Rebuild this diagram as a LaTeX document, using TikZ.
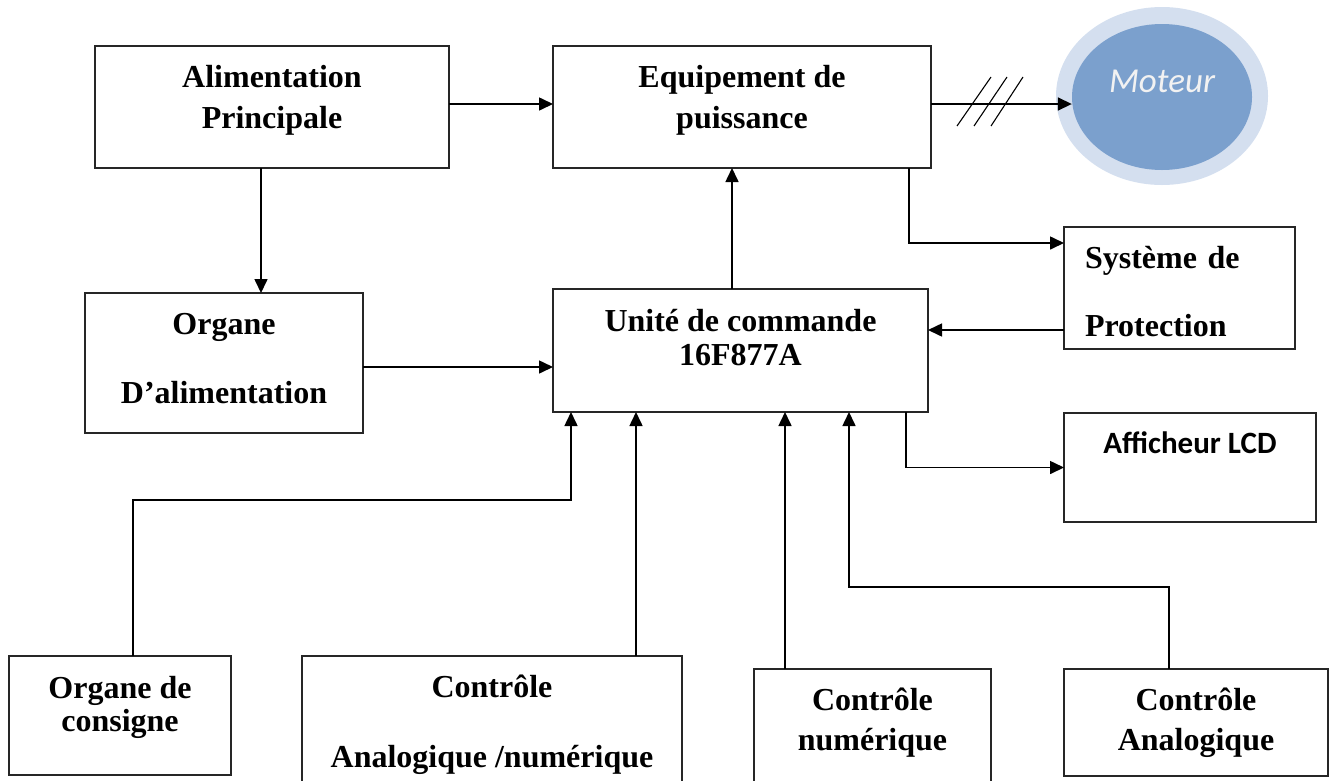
\documentclass[tikz,border=0pt]{standalone}
\usepackage{fontspec}
\setmainfont{Liberation Serif}
\newfontfamily\calibri{Carlito}
\usetikzlibrary{arrows.meta,shapes.geometric}
\definecolor{motorblue}{HTML}{7BA0CD}
\definecolor{halo}{HTML}{D4DFEF}
\tikzset{
	box/.style={draw=black!85,line width=1.6pt,rectangle,inner sep=0,outer sep=0,align=center,font=\bfseries\fontsize{32}{#1}\selectfont},
	box/.default=41,
	link/.style={line width=1.6pt,-{Triangle[length=14pt,width=13pt]}},
}

\begin{document}
\begin{tikzpicture}[x=1pt,y=-1pt]
	\useasboundingbox (0,0) rectangle (1332,780);
	\node[box,minimum width=354pt,minimum height=122pt,text height=62pt,text depth=20pt] (alim) at (272,107) {Alimentation\\Principale};
	\node[box,minimum width=378pt,minimum height=122pt,text height=62pt,text depth=20pt] (equip) at (742,107) {Equipement de\\puissance};
	\node[box=69,minimum width=278pt,minimum height=140pt,text height=90pt,text depth=10pt] (organe) at (224,363) {Organe\\D'alimentation};
	\node[box=34,minimum width=375pt,minimum height=123pt,text height=55pt,text depth=26pt] (unite) at (740.5,350.5) {Unité de commande\\16F877A};
	\node[box=68,minimum width=231pt,minimum height=122pt,text width=189pt,align=left,text height=30pt,text depth=70pt] (prot) at (1179.5,288) {Système de\\Protection};
	\node[box,font=\calibri\bfseries\fontsize{31}{36}\selectfont,minimum width=252pt,minimum height=109pt,text height=20pt,text depth=49pt] (lcd) at (1190,467.5) {Afficheur LCD};
	\node[ellipse,fill=halo,minimum width=212pt,minimum height=178pt,inner sep=0] (halo) at (1162,96) {};
	\node[ellipse,fill=motorblue,minimum width=180pt,minimum height=146pt,inner sep=0,text=white!95!black,font=\calibri\itshape\fontsize{35}{42}\selectfont,text height=22pt,text depth=32pt] (motor) at (1162,97) {Moteur};
	\node[box=33,minimum width=222pt,minimum height=119pt,text height=54pt,text depth=23pt] (consigne) at (120,715.5) {Organe de\\consigne};
	\node[box=70,minimum width=380pt,minimum height=144pt,text height=91pt,text depth=13pt] (an) at (492,728) {Contrôle\\Analogique /numérique};
	\node[box=40,minimum width=237pt,minimum height=131pt,text height=61pt,text depth=30pt] (num) at (872.5,734.5) {Contrôle\\numérique};
	\node[box=40,minimum width=264pt,minimum height=107pt,text height=61pt,text depth=6pt] (ana) at (1196,722.5) {Contrôle\\Analogique};
	\coordinate (c1) at (571,500);
	\coordinate (c2) at (849,587);
	\draw[link] ([yshift=3pt]alim.east) -- ([yshift=3pt]equip.west);
	\draw[link] ([yshift=3pt]equip.east) -- ([yshift=3pt]equip.east -| motor.west);
	\foreach \i in {0,1,2}
		\draw[line width=1.1pt] (957+17*\i,126) -- (991+16*\i,77);
	\draw[link] ([xshift=-11pt]alim.south) -- ([xshift=-11pt]alim.south |- organe.north);
	\draw[link] ([yshift=-4pt]organe.east) -- ([yshift=-4pt]organe.east -| unite.west);
	\draw[link] ([xshift=-8.5pt]unite.north) -- ([xshift=-8.5pt]unite.north |- equip.south);
	\draw[link] ([xshift=-22pt]equip.south east) |- ([yshift=-16pt]prot.north west);
	\draw[link] ([yshift=-42pt]prot.west) -- ([yshift=-42pt]prot.west -| unite.east);
	\draw[link] ([xshift=-22pt]unite.south east) |- (lcd.west);
	\draw[link] ([xshift=13pt]consigne.north) |- (c1) -- (c1 |- unite.south);
	\draw[link] ([xshift=144pt]an.north) -- ([xshift=144pt]an.north |- unite.south);
	\draw[link] ([xshift=-87.5pt]num.north) -- ([xshift=-87.5pt]num.north |- unite.south);
	\draw[link] ([xshift=-27pt]ana.north) |- (c2) -- (c2 |- unite.south);
\end{tikzpicture}
\end{document}
